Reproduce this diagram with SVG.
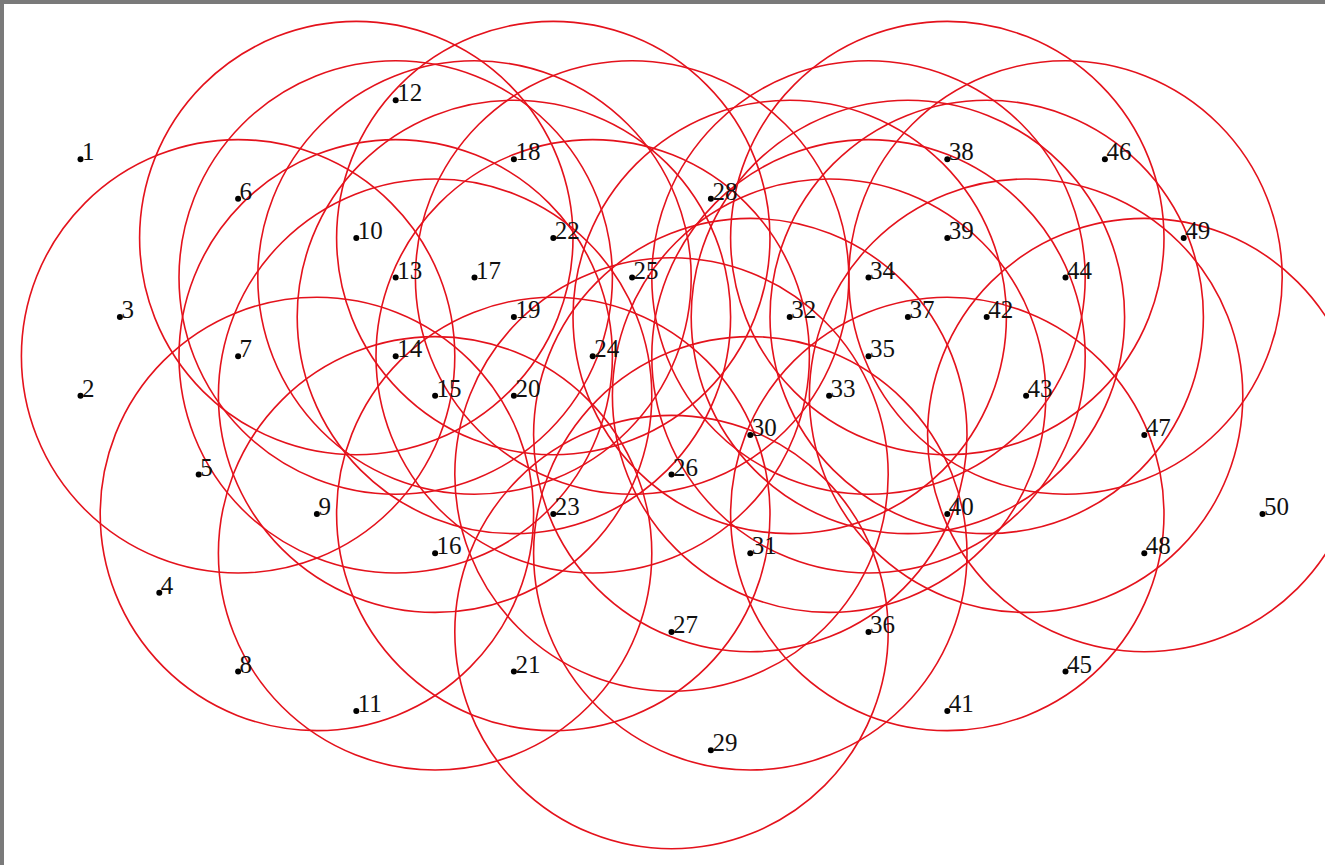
<svg xmlns="http://www.w3.org/2000/svg" width="1325" height="865" viewBox="0 0 1325 865">
<style>
.r{fill:none;stroke:#e4121c;stroke-width:1.6}
.d{fill:#000}
.t{font-family:"Liberation Serif","DejaVu Serif",serif;font-size:25px;fill:#111}
</style>
<rect x="0" y="0" width="1325" height="865" fill="#fff"/>
<rect x="2" y="2" width="1400" height="1000" fill="none" stroke="#7a7a7a" stroke-width="4"/>
<g id="ranges">
<circle class="r" cx="238.1" cy="356.3" r="216.7"/>
<circle class="r" cx="316.9" cy="513.9" r="216.7"/>
<circle class="r" cx="356.3" cy="238.1" r="216.7"/>
<circle class="r" cx="395.7" cy="277.5" r="216.7"/>
<circle class="r" cx="395.7" cy="356.3" r="216.7"/>
<circle class="r" cx="435.1" cy="395.7" r="216.7"/>
<circle class="r" cx="435.1" cy="553.3" r="216.7"/>
<circle class="r" cx="474.5" cy="277.5" r="216.7"/>
<circle class="r" cx="513.9" cy="316.9" r="216.7"/>
<circle class="r" cx="553.3" cy="238.1" r="216.7"/>
<circle class="r" cx="553.3" cy="513.9" r="216.7"/>
<circle class="r" cx="592.7" cy="356.3" r="216.7"/>
<circle class="r" cx="632.1" cy="277.5" r="216.7"/>
<circle class="r" cx="671.5" cy="474.5" r="216.7"/>
<circle class="r" cx="671.5" cy="632.1" r="216.7"/>
<circle class="r" cx="750.3" cy="435.1" r="216.7"/>
<circle class="r" cx="750.3" cy="553.3" r="216.7"/>
<circle class="r" cx="789.7" cy="316.9" r="216.7"/>
<circle class="r" cx="829.1" cy="395.7" r="216.7"/>
<circle class="r" cx="868.5" cy="277.5" r="216.7"/>
<circle class="r" cx="868.5" cy="356.3" r="216.7"/>
<circle class="r" cx="907.9" cy="316.9" r="216.7"/>
<circle class="r" cx="947.3" cy="238.1" r="216.7"/>
<circle class="r" cx="947.3" cy="513.9" r="216.7"/>
<circle class="r" cx="986.7" cy="316.9" r="216.7"/>
<circle class="r" cx="1026.1" cy="395.7" r="216.7"/>
<circle class="r" cx="1065.5" cy="277.5" r="216.7"/>
<circle class="r" cx="1144.3" cy="435.1" r="216.7"/>
</g>
<g id="n1"><circle class="d" cx="80.5" cy="159.3" r="3"/><text class="t" x="82" y="160.3">1</text></g>
<g id="n2"><circle class="d" cx="80.5" cy="395.7" r="3"/><text class="t" x="82" y="396.7">2</text></g>
<g id="n3"><circle class="d" cx="119.9" cy="316.9" r="3"/><text class="t" x="121.4" y="317.9">3</text></g>
<g id="n4"><circle class="d" cx="159.3" cy="592.7" r="3"/><text class="t" x="160.8" y="593.7">4</text></g>
<g id="n5"><circle class="d" cx="198.7" cy="474.5" r="3"/><text class="t" x="200.2" y="475.5">5</text></g>
<g id="n6"><circle class="d" cx="238.1" cy="198.7" r="3"/><text class="t" x="239.6" y="199.7">6</text></g>
<g id="n7"><circle class="d" cx="238.1" cy="356.3" r="3"/><text class="t" x="239.6" y="357.3">7</text></g>
<g id="n8"><circle class="d" cx="238.1" cy="671.5" r="3"/><text class="t" x="239.6" y="672.5">8</text></g>
<g id="n9"><circle class="d" cx="316.9" cy="513.9" r="3"/><text class="t" x="318.4" y="514.9">9</text></g>
<g id="n10"><circle class="d" cx="356.3" cy="238.1" r="3"/><text class="t" x="357.8" y="239.1">10</text></g>
<g id="n11"><circle class="d" cx="356.3" cy="710.9" r="3"/><text class="t" x="357.8" y="711.9">11</text></g>
<g id="n12"><circle class="d" cx="395.7" cy="100.2" r="3"/><text class="t" x="397.2" y="101.2">12</text></g>
<g id="n13"><circle class="d" cx="395.7" cy="277.5" r="3"/><text class="t" x="397.2" y="278.5">13</text></g>
<g id="n14"><circle class="d" cx="395.7" cy="356.3" r="3"/><text class="t" x="397.2" y="357.3">14</text></g>
<g id="n15"><circle class="d" cx="435.1" cy="395.7" r="3"/><text class="t" x="436.6" y="396.7">15</text></g>
<g id="n16"><circle class="d" cx="435.1" cy="553.3" r="3"/><text class="t" x="436.6" y="554.3">16</text></g>
<g id="n17"><circle class="d" cx="474.5" cy="277.5" r="3"/><text class="t" x="476" y="278.5">17</text></g>
<g id="n18"><circle class="d" cx="513.9" cy="159.3" r="3"/><text class="t" x="515.4" y="160.3">18</text></g>
<g id="n19"><circle class="d" cx="513.9" cy="316.9" r="3"/><text class="t" x="515.4" y="317.9">19</text></g>
<g id="n20"><circle class="d" cx="513.9" cy="395.7" r="3"/><text class="t" x="515.4" y="396.7">20</text></g>
<g id="n21"><circle class="d" cx="513.9" cy="671.5" r="3"/><text class="t" x="515.4" y="672.5">21</text></g>
<g id="n22"><circle class="d" cx="553.3" cy="238.1" r="3"/><text class="t" x="554.8" y="239.1">22</text></g>
<g id="n23"><circle class="d" cx="553.3" cy="513.9" r="3"/><text class="t" x="554.8" y="514.9">23</text></g>
<g id="n24"><circle class="d" cx="592.7" cy="356.3" r="3"/><text class="t" x="594.2" y="357.3">24</text></g>
<g id="n25"><circle class="d" cx="632.1" cy="277.5" r="3"/><text class="t" x="633.6" y="278.5">25</text></g>
<g id="n26"><circle class="d" cx="671.5" cy="474.5" r="3"/><text class="t" x="673" y="475.5">26</text></g>
<g id="n27"><circle class="d" cx="671.5" cy="632.1" r="3"/><text class="t" x="673" y="633.1">27</text></g>
<g id="n28"><circle class="d" cx="710.9" cy="198.7" r="3"/><text class="t" x="712.4" y="199.7">28</text></g>
<g id="n29"><circle class="d" cx="710.9" cy="750.3" r="3"/><text class="t" x="712.4" y="751.3">29</text></g>
<g id="n30"><circle class="d" cx="750.3" cy="435.1" r="3"/><text class="t" x="751.8" y="436.1">30</text></g>
<g id="n31"><circle class="d" cx="750.3" cy="553.3" r="3"/><text class="t" x="751.8" y="554.3">31</text></g>
<g id="n32"><circle class="d" cx="789.7" cy="316.9" r="3"/><text class="t" x="791.2" y="317.9">32</text></g>
<g id="n33"><circle class="d" cx="829.1" cy="395.7" r="3"/><text class="t" x="830.6" y="396.7">33</text></g>
<g id="n34"><circle class="d" cx="868.5" cy="277.5" r="3"/><text class="t" x="870" y="278.5">34</text></g>
<g id="n35"><circle class="d" cx="868.5" cy="356.3" r="3"/><text class="t" x="870" y="357.3">35</text></g>
<g id="n36"><circle class="d" cx="868.5" cy="632.1" r="3"/><text class="t" x="870" y="633.1">36</text></g>
<g id="n37"><circle class="d" cx="907.9" cy="316.9" r="3"/><text class="t" x="909.4" y="317.9">37</text></g>
<g id="n38"><circle class="d" cx="947.3" cy="159.3" r="3"/><text class="t" x="948.8" y="160.3">38</text></g>
<g id="n39"><circle class="d" cx="947.3" cy="238.1" r="3"/><text class="t" x="948.8" y="239.1">39</text></g>
<g id="n40"><circle class="d" cx="947.3" cy="513.9" r="3"/><text class="t" x="948.8" y="514.9">40</text></g>
<g id="n41"><circle class="d" cx="947.3" cy="710.9" r="3"/><text class="t" x="948.8" y="711.9">41</text></g>
<g id="n42"><circle class="d" cx="986.7" cy="316.9" r="3"/><text class="t" x="988.2" y="317.9">42</text></g>
<g id="n43"><circle class="d" cx="1026.1" cy="395.7" r="3"/><text class="t" x="1027.6" y="396.7">43</text></g>
<g id="n44"><circle class="d" cx="1065.5" cy="277.5" r="3"/><text class="t" x="1067" y="278.5">44</text></g>
<g id="n45"><circle class="d" cx="1065.5" cy="671.5" r="3"/><text class="t" x="1067" y="672.5">45</text></g>
<g id="n46"><circle class="d" cx="1104.9" cy="159.3" r="3"/><text class="t" x="1106.4" y="160.3">46</text></g>
<g id="n47"><circle class="d" cx="1144.3" cy="435.1" r="3"/><text class="t" x="1145.8" y="436.1">47</text></g>
<g id="n48"><circle class="d" cx="1144.3" cy="553.3" r="3"/><text class="t" x="1145.8" y="554.3">48</text></g>
<g id="n49"><circle class="d" cx="1183.7" cy="238.1" r="3"/><text class="t" x="1185.2" y="239.1">49</text></g>
<g id="n50"><circle class="d" cx="1262.5" cy="513.9" r="3"/><text class="t" x="1264" y="514.9">50</text></g>
</svg>
